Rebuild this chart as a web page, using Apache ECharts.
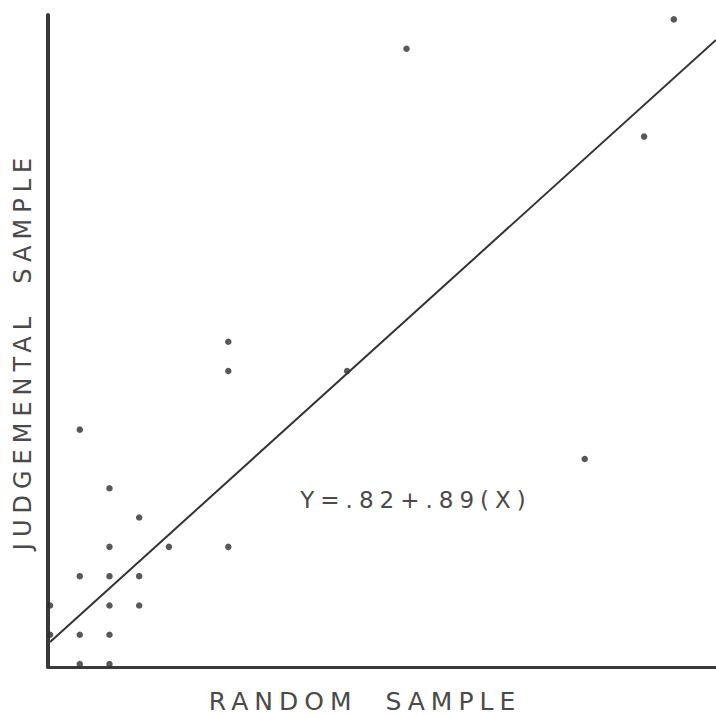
<!DOCTYPE html>
<html>
<head>
<meta charset="utf-8">
<script src="https://cdn.jsdelivr.net/npm/echarts@6/dist/echarts.min.js"></script>
<style>
html,body{margin:0;padding:0;background:#fff;}
#chart{width:716px;height:717px;}
#chart svg text{letter-spacing:6px;}
</style>
</head>
<body>
<div id="chart"></div>
<script>
// Random sample (x) vs judgemental sample (y)
const randomSample =      [1, 2, 3, 2, 4, 6, 1, 2, 3, 0, 2, 3, 0, 1, 2, 1, 2, 6, 6, 10, 18, 12, 21, 20];
const judgementalSample = [8, 6, 5, 4, 4, 4, 3, 3, 3, 2, 2, 2, 1, 1, 1, 0, 0, 11, 10, 10, 7, 21, 22, 18];
// fitted line endpoints as drawn (Y = .82 + .89(X))
const fitX = [0, 22.42];
const fitY = [0.75, 21.3];
const xAxisTitle = 'RANDOM  SAMPLE';
const yAxisTitle = 'JUDGEMENTAL  SAMPLE';
const equationText = 'Y=.82+.89(X)';

const points = randomSample.map((x, i) => [x, judgementalSample[i]]);
const fitLine = fitX.map((x, i) => [x, fitY[i]]);

const chart = echarts.init(document.getElementById('chart'), null, {renderer: 'svg'});
chart.setOption({
  animation: false,
  backgroundColor: '#fff',
  grid: {left: 48, right: 0, top: 15, bottom: 50, containLabel: false, outerBoundsMode: 'none'},
  xAxis: {
    type: 'value', min: -0.07, max: 22.42,
    axisLine: {show: true, onZero: false, lineStyle: {color: '#3a3a3a', width: 3}},
    axisTick: {show: false}, axisLabel: {show: false}, splitLine: {show: false},
    name: xAxisTitle, nameLocation: 'middle', nameGap: 22,
    nameTextStyle: {fontFamily: 'DejaVu Sans', fontSize: 25, color: '#4a4a4a', padding: [0, 34, 0, 0]}
  },
  yAxis: {
    type: 'value', min: -0.1, max: 22.15,
    axisLine: {show: true, onZero: false, lineStyle: {color: '#3a3a3a', width: 4}},
    axisTick: {show: false}, axisLabel: {show: false}, splitLine: {show: false},
    name: yAxisTitle, nameLocation: 'middle', nameGap: 13,
    nameTextStyle: {fontFamily: 'DejaVu Sans', fontSize: 24, color: '#4a4a4a', padding: [0, 20, 0, 0]}
  },
  graphic: [{
    type: 'text', x: 416, y: 500,
    style: {text: equationText, font: '23px "DejaVu Sans"', fill: '#4a4a4a', align: 'center', verticalAlign: 'middle'}
  }],
  series: [
    {
      type: 'line', data: fitLine, symbol: 'none', silent: true,
      lineStyle: {color: '#333', width: 2}
    },
    {
      type: 'scatter', data: points, symbol: 'circle', symbolSize: 6.5,
      itemStyle: {color: '#2e2e2e'}
    }
  ]
});
</script>
</body>
</html>
